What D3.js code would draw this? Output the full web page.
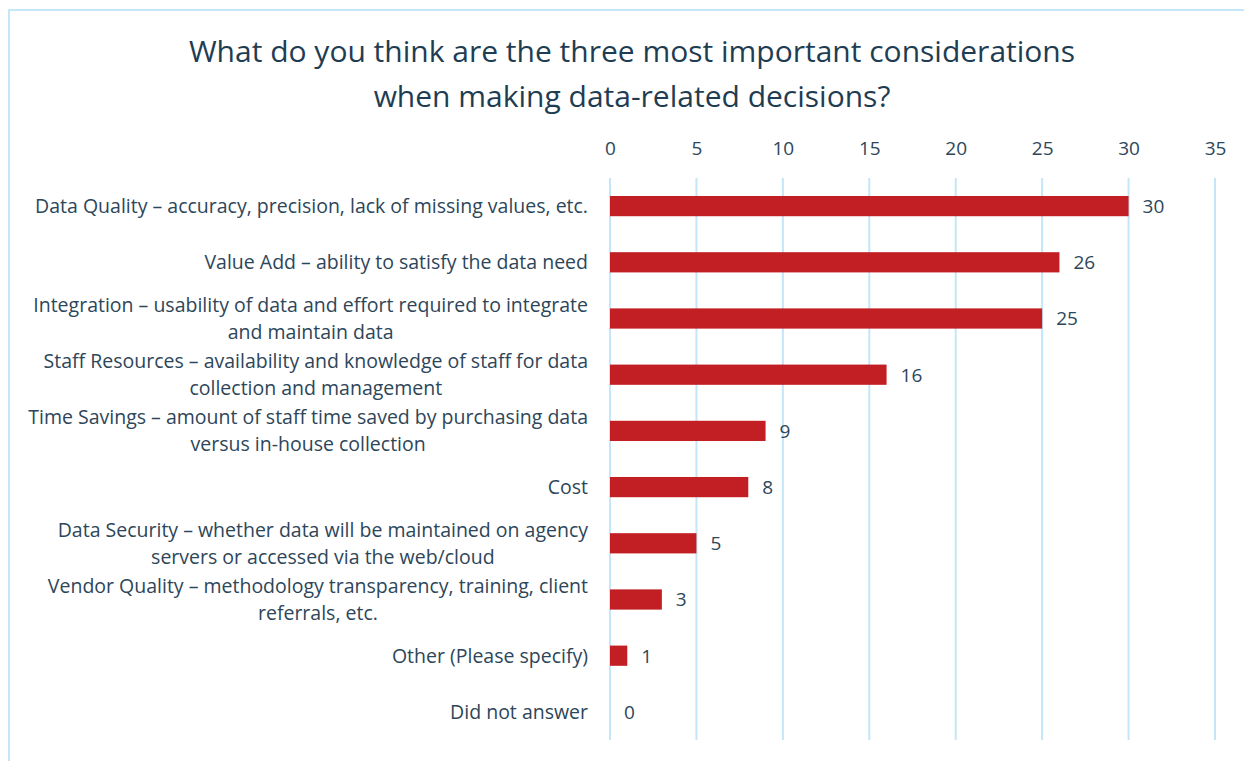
<!DOCTYPE html>
<html>
<head>
<meta charset="utf-8">
<script src="https://cdn.jsdelivr.net/npm/d3@7"></script>
<style>
  body { margin: 0; background: #fff; }
  svg { display: block; }
</style>
</head>
<body>
<svg id="chart" width="1244" height="761"></svg>
<script>
// Survey categories (line breaks as wrapped in the original)
var categories = [
    "Data Quality – accuracy, precision, lack of missing values, etc.",
    "Value Add – ability to satisfy the data need",
    "Integration – usability of data and effort required to integrate\nand maintain data",
    "Staff Resources – availability and knowledge of staff for data\ncollection and management",
    "Time Savings – amount of staff time saved by purchasing data\nversus in-house collection",
    "Cost",
    "Data Security – whether data will be maintained on agency\nservers or accessed via the web/cloud",
    "Vendor Quality – methodology transparency, training, client\nreferrals, etc.",
    "Other (Please specify)",
    "Did not answer"
];
var counts = [30, 26, 25, 16, 9, 8, 5, 3, 1, 0];
var tickValues = [0, 5, 10, 15, 20, 25, 30, 35];
var titleLines = [
    "What do you think are the three most important considerations",
    "when making data-related decisions?"
];

var svg = d3.select("#chart");
var font = "'Open Sans', Lato, sans-serif";
var textColor = "#2d4659";
var gridColor = "#c3e6f9";
var barColor = "#c21f24";

// outer frame (runs off the right/bottom edge like the original)
svg.append("rect")
    .attr("x", 9)
    .attr("y", 10)
    .attr("width", 1260)
    .attr("height", 780)
    .attr("fill", "none")
    .attr("stroke", gridColor)
    .attr("stroke-width", 2);

// Title
svg.append("g").selectAll("text")
    .data(titleLines)
    .enter()
    .append("text")
    .attr("x", 632)
    .attr("y", function(d, i) { return 62 + i * 45; })
    .attr("text-anchor", "middle")
    .attr("font-family", font)
    .attr("font-size", "30px")
    .attr("fill", "#1f3d52")
    .text(function(d) { return d; });

var xScale = d3.scaleLinear()
    .domain([0, 35])
    .range([610, 1215]);

var yScale = d3.scaleBand()
    .domain(categories)
    .range([178, 740])
    .paddingInner(0.64)
    .paddingOuter(0.32);

// Gridlines
svg.append("g").selectAll("line")
    .data(tickValues)
    .enter()
    .append("line")
    .attr("x1", function(d) { return xScale(d); })
    .attr("x2", function(d) { return xScale(d); })
    .attr("y1", 178)
    .attr("y2", 740)
    .attr("stroke", gridColor)
    .attr("stroke-width", 2);

// Top axis labels
var xAxis = d3.axisTop(xScale)
    .tickValues(tickValues)
    .tickSize(0)
    .tickPadding(0);

var axisG = svg.append("g")
    .attr("transform", "translate(0,155)")
    .call(xAxis);
axisG.select(".domain").remove();
axisG.selectAll("text")
    .attr("font-family", font)
    .attr("font-size", "19px")
    .attr("fill", textColor);

// Bars
svg.append("g").selectAll("rect")
    .data(counts)
    .enter()
    .append("rect")
    .attr("x", xScale(0))
    .attr("y", function(d, i) { return yScale(categories[i]); })
    .attr("width", function(d) { return xScale(d) - xScale(0); })
    .attr("height", yScale.bandwidth())
    .attr("fill", barColor);

// Value labels
svg.append("g").selectAll("text")
    .data(counts)
    .enter()
    .append("text")
    .attr("x", function(d) { return xScale(d) + 14; })
    .attr("y", function(d, i) { return yScale(categories[i]) + yScale.bandwidth() / 2; })
    .attr("dy", "0.36em")
    .attr("font-family", font)
    .attr("font-size", "19px")
    .attr("fill", textColor)
    .text(function(d) { return d; });

// Category labels - lines centred together, block right-aligned at the axis
var labelRight = 588;
var lineH = 27;
var labelG = svg.append("g")
    .attr("font-family", font)
    .attr("font-size", "19.5px")
    .attr("fill", textColor);

categories.forEach(function(c) {
    var lines = c.split("\n");
    var cy = yScale(c) + yScale.bandwidth() / 2;
    var t = labelG.append("text")
        .attr("text-anchor", "middle");
    var spans = t.selectAll("tspan")
        .data(lines)
        .enter()
        .append("tspan")
        .attr("y", function(d, i) { return cy + (i - (lines.length - 1) / 2) * lineH; })
        .attr("dy", "0.36em")
        .text(function(d) { return d; });
    // find widest line then centre block on it
    var maxW = 0;
    spans.each(function() { maxW = Math.max(maxW, this.getComputedTextLength()); });
    spans.attr("x", labelRight - maxW / 2);
});
</script>
</body>
</html>
